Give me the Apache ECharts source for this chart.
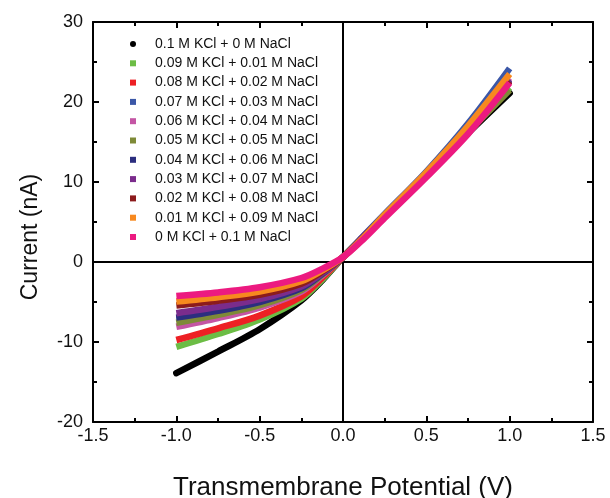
<!DOCTYPE html>
<html>
<head>
<meta charset="utf-8">
<script src="https://cdn.jsdelivr.net/npm/echarts@6/dist/echarts.min.js"></script>
<style>
html,body{margin:0;padding:0;background:#fff;}
#chart{width:610px;height:498px;}
</style>
</head>
<body>
<div id="chart"></div>
<script>
// Transmembrane potential (V) sample points
const voltages = [-1, -0.75, -0.5, -0.25, -0.125, 0, 0.125, 0.25, 0.5, 0.75, 1];

const seriesNames = [
  '0.1 M KCl + 0 M NaCl',
  '0.09 M KCl + 0.01 M NaCl',
  '0.08 M KCl + 0.02 M NaCl',
  '0.07 M KCl + 0.03 M NaCl',
  '0.06 M KCl + 0.04 M NaCl',
  '0.05 M KCl + 0.05 M NaCl',
  '0.04 M KCl + 0.06 M NaCl',
  '0.03 M KCl + 0.07 M NaCl',
  '0.02 M KCl + 0.08 M NaCl',
  '0.01 M KCl + 0.09 M NaCl',
  '0 M KCl + 0.1 M NaCl'
];

const colors = ['#000000', '#6cbd45', '#ed2024', '#3b57a7', '#c455a4', '#7e8a37',
                '#2c2e7f', '#7b2c8c', '#8c1b1c', '#f7891f', '#ec1a80'];

// Current (nA) at each voltage
const kcl010 = [-13.9, -11.2, -8.4, -4.8, -2.3, 0.6, 3.2, 5.8, 10.9, 16.1, 21.1];
const kcl009 = [-10.6, -9.0, -7.2, -4.6, -2.2, 0.6, 3.2, 5.8, 10.9, 16.3, 21.8];
const kcl008 = [-9.75, -8.3, -6.7, -4.3, -2.0, 0.6, 3.2, 5.8, 11.0, 16.6, 22.6];
const kcl007 = [-7.1, -6.2, -5.1, -3.35, -1.5, 0.6, 3.3, 6.0, 11.3, 17.3, 24.2];
const kcl006 = [-8.1, -7.0, -5.7, -3.7, -1.7, 0.6, 3.2, 5.8, 11.1, 16.8, 23.0];
const kcl005 = [-7.6, -6.6, -5.4, -3.5, -1.6, 0.6, 3.1, 5.7, 10.9, 16.2, 21.5];
const kcl004 = [-6.95, -6.1, -5.0, -3.3, -1.5, 0.6, 3.2, 5.8, 11.0, 16.6, 22.8];
const kcl003 = [-6.4, -5.6, -4.65, -3.05, -1.4, 0.6, 3.2, 5.8, 11.0, 16.6, 22.7];
const kcl002 = [-5.45, -4.85, -4.1, -2.7, -1.2, 0.6, 3.1, 5.8, 11.0, 16.7, 22.6];
const kcl001 = [-4.95, -4.4, -3.7, -2.4, -1.05, 0.6, 3.1, 5.9, 11.2, 17.0, 23.5];
const kcl000 = [-4.25, -3.8, -3.15, -2.0, -0.85, 0.6, 2.9, 5.5, 10.6, 16.0, 22.4];

const currents = [kcl010, kcl009, kcl008, kcl007, kcl006, kcl005, kcl004, kcl003, kcl002, kcl001, kcl000];

const xTicks = { min: -1.5, max: 1.5, interval: 0.5 };
const yTicks = { min: -20, max: 30, interval: 10 };

const chart = echarts.init(document.getElementById('chart'), null, { renderer: 'canvas' });

const FONT = 'Liberation Sans, Arial, sans-serif';

const series = seriesNames.map((name, i) => ({
  name: name,
  type: 'line',
  smooth: 0.3,
  showSymbol: false,
  symbol: i === 0 ? 'circle' : 'rect',
  color: colors[i],
  lineStyle: { width: 6.5, color: colors[i], cap: i === 0 ? 'round' : 'butt' },
  data: voltages.map((v, j) => [v, currents[i][j]]),
  z: 2 + i,
  silent: true
}));

series.push({
  name: 'zero',
  type: 'line',
  data: [],
  silent: true,
  z: 20,
  markLine: {
    silent: true,
    symbol: 'none',
    label: { show: false },
    lineStyle: { color: '#000', width: 2, type: 'solid' },
    data: [{ xAxis: 0 }, { yAxis: 0 }]
  }
});

const axisCommon = {
  type: 'value',
  axisLine: { show: true, onZero: false, lineStyle: { color: '#000', width: 2 } },
  axisTick: { show: true, inside: true, length: 6, lineStyle: { color: '#000', width: 2 } },
  minorTick: { show: true, splitNumber: 2, length: 4, lineStyle: { color: '#000', width: 2 } },
  splitLine: { show: false },
  minorSplitLine: { show: false }
};

const option = {
  backgroundColor: '#fff',
  animation: false,
  grid: { left: 93, right: 17, top: 22, bottom: 76, containLabel: false, outerBoundsMode: 'none' },
  legend: {
    data: seriesNames.map((n, i) => ({ name: n, icon: i === 0 ? 'circle' : 'rect' })),
    orient: 'vertical',
    left: 130,
    top: 37,
    padding: 0,
    itemWidth: 6,
    itemHeight: 6,
    itemGap: 5.3,
    selectedMode: false,
    textStyle: { fontFamily: FONT, fontSize: 14, color: '#111', lineHeight: 14, padding: [0, 0, 0, 14] }
  },
  xAxis: [
    Object.assign({}, axisCommon, {
      position: 'bottom',
      min: xTicks.min, max: xTicks.max, interval: xTicks.interval,
      name: 'Transmembrane Potential (V)',
      nameLocation: 'middle',
      nameGap: 53,
      nameTextStyle: { fontFamily: FONT, fontSize: 26, color: '#111' },
      axisLabel: { fontFamily: FONT, fontSize: 18, color: '#111', margin: 5,
        formatter: v => v.toFixed(1) }
    }),
    Object.assign({}, axisCommon, {
      position: 'top',
      min: xTicks.min, max: xTicks.max, interval: xTicks.interval,
      axisLabel: { show: false }
    })
  ],
  yAxis: [
    Object.assign({}, axisCommon, {
      position: 'left',
      min: yTicks.min, max: yTicks.max, interval: yTicks.interval,
      name: 'Current (nA)',
      nameLocation: 'middle',
      nameGap: 51,
      nameTextStyle: { fontFamily: FONT, fontSize: 23, color: '#111', padding: [0, 30, 0, 0] },
      axisLabel: { fontFamily: FONT, fontSize: 18, color: '#111', margin: 10 }
    }),
    Object.assign({}, axisCommon, {
      position: 'right',
      min: yTicks.min, max: yTicks.max, interval: yTicks.interval,
      axisLabel: { show: false }
    })
  ],
  series: series
};

chart.setOption(option);
</script>
</body>
</html>
